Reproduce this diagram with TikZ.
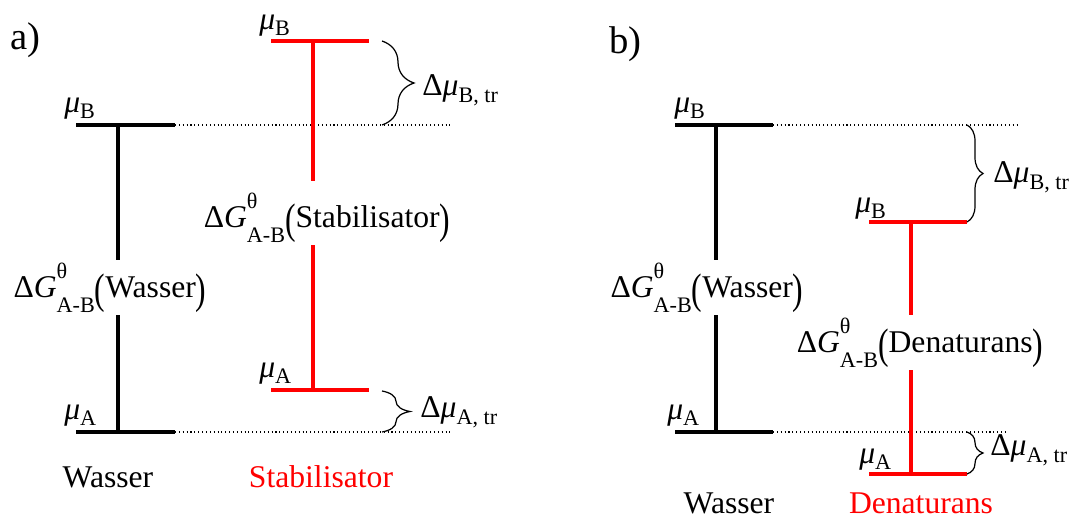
\documentclass[tikz,border=0pt]{standalone}
\usepackage{fontspec}
\setmainfont{Liberation Serif}
\usepackage{graphicx}
\usetikzlibrary{
    decorations.pathreplacing,
    positioning,
    calc
}
% --- small helpers for the chemical potentials ---
\newcommand{\lowsub}[2]{\raisebox{-#1}{\fontsize{12.6}{14}\selectfont #2}}
\newcommand{\bigparen}[1]{\raisebox{-0.19em}{\scalebox{1}[1.35]{#1}}}
\newcommand{\muLvl}[1]{\textit{μ}\lowsub{0.2em}{#1}}
\newcommand{\dMu}[1]{Δ\textit{μ}\lowsub{0.25em}{#1}}
\newcommand{\dGab}[1]{Δ\textit{G}\rlap{\raisebox{0.6em}{\fontsize{12.6}{14}\selectfont θ}}%
    \lowsub{0.5em}{A-B}\bigparen{(}#1\bigparen{)}}
\tikzset{
    % --- Energy level (horizontal bar) ---
    lvl line/.style = {
        line width=2.2pt
    },
    % --- Vertical connection between the two levels ---
    dG stem/.style = {
        line width=2.2pt
    },
    % --- Dotted reference line of the water levels ---
    ref line/.style = {
        line width=0.6pt, dash pattern=on 0.6pt off 1.6pt
    },
    % --- Curly brace for the transfer potential ---
    tr brace/.style = {
        decorate, decoration={brace, amplitude=#1},
        line width=0.7pt
    },
    % --- Level label mu_A / mu_B ---
    mu label/.style = {
        inner sep=0pt, anchor=base west
    },
    % --- Label of the free energy difference ---
    dG label/.style = {
        inner sep=1pt, anchor=base
    },
    % --- Label of the transfer potential ---
    dmu label/.style = {
        inner sep=0pt, anchor=base west
    },
    % --- Solvent name below the columns ---
    solvent/.style = {
        inner sep=0pt, anchor=base
    },
    % --- Panel letter ---
    panel/.style = {
        inner sep=0pt, anchor=base west,
        font=\fontsize{22}{26}\selectfont
    }
}

\begin{document}
\begin{tikzpicture}[x=0.02cm, y=-0.02cm, font=\fontsize{18}{21}\selectfont]

\useasboundingbox (0,0) rectangle (1069,518);

% ---------------------------------------------------------
% a) Wasser / Stabilisator
% ---------------------------------------------------------
\node[panel] (PanelA) at (10,49) {a)};

\coordinate (aWBl) at (76,125);  \coordinate (aWBr) at (175,125);  \coordinate (aWBs) at (118,125);
\coordinate (aWAl) at (76,432);  \coordinate (aWAr) at (175,432);  \coordinate (aWAs) at (118,432);
\coordinate (aSBl) at (271,41);  \coordinate (aSBr) at (369,41);   \coordinate (aSBs) at (313,41);
\coordinate (aSAl) at (271,390); \coordinate (aSAr) at (369,390);  \coordinate (aSAs) at (313,390);
\coordinate (aRefB) at (450,125);
\coordinate (aRefA) at (450,432);

% reference lines
\draw[ref line] (aWBr) -- (aRefB);
\draw[ref line] (aWAr) -- (aRefA);

% levels
\draw[lvl line] (aWBl) -- (aWBr);
\draw[lvl line] (aWAl) -- (aWAr);
\draw[lvl line, red] (aSBl) -- (aSBr);
\draw[lvl line, red] (aSAl) -- (aSAr);

\node[mu label] (aWBmu) at (64,112) {\muLvl{B}};
\node[mu label] (aWAmu) at (64,419) {\muLvl{A}};
\node[mu label] (aSBmu) at (259,29) {\muLvl{B}};
\node[mu label] (aSAmu) at (259,377) {\muLvl{A}};

% free energy differences
\node[dG label] (dGaW) at (110,297) {\dGab{Wasser}};
\node[dG label] (dGaS) at (327,227) {\dGab{Stabilisator}};
\coordinate (aSgap) at (313,181);
\draw[dG stem] (aWBs) -- (aWBs |- dGaW.north);
\draw[dG stem] (aWAs) -- (aWAs |- dGaW.south);
\draw[dG stem, red] (aSBs) -- (aSgap);
\draw[dG stem, red] (aSAs) -- (aSAs |- dGaS.south);

% transfer potentials
\coordinate (aBrBt) at (382,41);  \coordinate (aBrBb) at (382,125);
\coordinate (aBrAt) at (382,391); \coordinate (aBrAb) at (382,432);
\draw[tr brace=0.64cm] (aBrBt) -- (aBrBb);
\draw[tr brace=0.56cm] (aBrAt) -- (aBrAb);
\node[dmu label] (aDmuB) at (422,95) {\dMu{B, tr}};
\node[dmu label] (aDmuA) at (420,417) {\dMu{A, tr}};

\node[solvent] (aWasser) at (108,487) {Wasser};
\node[solvent, red] (aStab) at (321,487) {Stabilisator};

% ---------------------------------------------------------
% b) Wasser / Denaturans
% ---------------------------------------------------------
\node[panel] (PanelB) at (609,53) {b)};

\coordinate (bWBl) at (675,125);  \coordinate (bWBr) at (773,125);  \coordinate (bWBs) at (716,125);
\coordinate (bWAl) at (675,432);  \coordinate (bWAr) at (773,432);  \coordinate (bWAs) at (716,432);
\coordinate (bDBl) at (869,222);  \coordinate (bDBr) at (967,222);  \coordinate (bDBs) at (911,222);
\coordinate (bDAl) at (869,474);  \coordinate (bDAr) at (967,474);  \coordinate (bDAs) at (911,474);
\coordinate (bRefB) at (1020,125);
\coordinate (bRefA) at (1007,432);

% reference lines
\draw[ref line] (bWBr) -- (bRefB);
\draw[ref line] (bWAr) -- (bRefA);

% levels
\draw[lvl line] (bWBl) -- (bWBr);
\draw[lvl line] (bWAl) -- (bWAr);
\draw[lvl line, red] (bDBl) -- (bDBr);
\draw[lvl line, red] (bDAl) -- (bDAr);

\node[mu label] (bWBmu) at (674,112) {\muLvl{B}};
\node[mu label] (bWAmu) at (667,419) {\muLvl{A}};
\node[mu label] (bDBmu) at (855,212) {\muLvl{B}};
\node[mu label] (bDAmu) at (859,463) {\muLvl{A}};

% free energy differences
\node[dG label] (dGbW) at (707,297) {\dGab{Wasser}};
\node[dG label] (dGbD) at (920,352) {\dGab{Denaturans}};
\draw[dG stem] (bWBs) -- (bWBs |- dGbW.north);
\draw[dG stem] (bWAs) -- (bWAs |- dGbW.south);
\draw[dG stem, red] (bDBs) -- (bDBs |- dGbD.north);
\draw[dG stem, red] (bDAs) -- (bDAs |- dGbD.south);

% transfer potentials
\coordinate (bBrBt) at (967,125); \coordinate (bBrBb) at (967,222);
\coordinate (bBrAt) at (967,432); \coordinate (bBrAb) at (967,474);
\draw[tr brace=0.32cm] (bBrBt) -- (bBrBb);
\draw[tr brace=0.32cm] (bBrAt) -- (bBrAb);
\node[dmu label] (bDmuB) at (993,182) {\dMu{B, tr}};
\node[dmu label] (bDmuA) at (990,455) {\dMu{A, tr}};

\node[solvent] (bWasser) at (729,513) {Wasser};
\node[solvent, red] (bDen) at (921,513) {Denaturans};

\end{tikzpicture}
\end{document}
